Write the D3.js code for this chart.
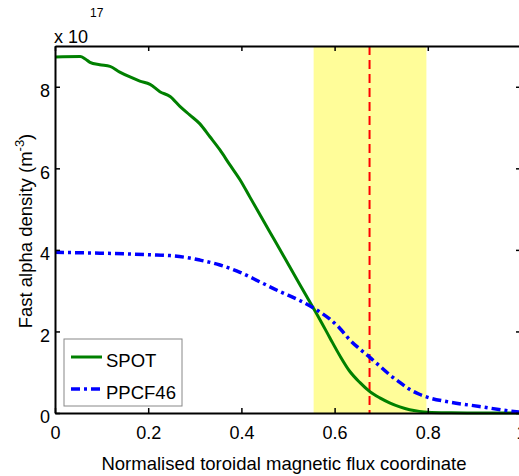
<!DOCTYPE html>
<html lang="en">
<head>
<meta charset="UTF-8" />
<title>Fast alpha density</title>
<style>
  body { margin: 0; background: #fff; }
  svg { display: block; font-family: "Liberation Sans", Arial, sans-serif; }
</style>
</head>
<body>
<div class="chart"></div>
<script src="https://d3js.org/d3.v7.min.js"></script>
<script>
// data (x = normalised toroidal flux, y in 1e17 m^-3)
const spotX = [0, 0.054, 0.065, 0.075, 0.096, 0.118, 0.139, 0.161, 0.182, 0.204, 0.225, 0.247, 0.268, 0.289, 0.311, 0.332, 0.354, 0.375, 0.397, 0.418, 0.439, 0.461, 0.482, 0.504, 0.525, 0.554, 0.568, 0.59, 0.611, 0.632, 0.654, 0.675, 0.697, 0.718, 0.74, 0.761, 0.782, 0.8, 0.85, 0.9, 1.0]
const spotY = [8.73, 8.74, 8.68, 8.6, 8.54, 8.5, 8.36, 8.24, 8.14, 8.06, 7.88, 7.76, 7.52, 7.31, 7.09, 6.78, 6.45, 6.09, 5.72, 5.3, 4.88, 4.44, 4.02, 3.58, 3.16, 2.58, 2.3, 1.84, 1.41, 1.03, 0.75, 0.53, 0.37, 0.25, 0.15, 0.08, 0.04, 0.02, 0.005, 0.0, 0.0]

const ppcfX = [0, 0.096, 0.16, 0.204, 0.247, 0.289, 0.311, 0.354, 0.397, 0.439, 0.482, 0.525, 0.554, 0.59, 0.611, 0.632, 0.654, 0.675, 0.697, 0.718, 0.74, 0.761, 0.782, 0.804, 0.84, 0.911, 0.975, 1.0]
const ppcfY = [3.94, 3.92, 3.9, 3.88, 3.86, 3.8, 3.75, 3.63, 3.45, 3.22, 2.98, 2.76, 2.58, 2.3, 2.08, 1.8, 1.57, 1.37, 1.15, 0.94, 0.75, 0.58, 0.46, 0.37, 0.28, 0.16, 0.05, 0.02]

const seriesNames = ['SPOT', 'PPCF46']
const seriesColors = ['#008000', '#0000ff']

const bandRange = [0.555, 0.797]
const markerX = 0.675

const xTicks = [0, 0.2, 0.4, 0.6, 0.8, 1]
const yTicks = [0, 2, 4, 6, 8]

const width = 519
const height = 476
const plotLeft = 55, plotRight = 521, plotTop = 46, plotBottom = 413

const svg = d3.select('.chart')
  .append('svg')
  .attr('width', width)
  .attr('height', height)

const xScale = d3.scaleLinear().domain([0, 1]).range([plotLeft, plotRight])
const yScale = d3.scaleLinear().domain([0, 9]).range([plotBottom, plotTop])

// shaded region
svg.append('rect')
  .attr('x', xScale(bandRange[0]))
  .attr('y', plotTop)
  .attr('width', xScale(bandRange[1]) - xScale(bandRange[0]))
  .attr('height', plotBottom - plotTop)
  .attr('fill', '#fffd99')

// red dashed marker
svg.append('line')
  .attr('x1', xScale(markerX))
  .attr('x2', xScale(markerX))
  .attr('y1', plotTop)
  .attr('y2', plotBottom)
  .attr('stroke', '#ff0000')
  .attr('stroke-width', 2)
  .attr('stroke-dasharray', '9,5')

const line = d3.line()
  .x(d => xScale(d[0]))
  .y(d => yScale(d[1]))
  .curve(d3.curveMonotoneX)

svg.append('path')
  .datum(spotX.map((x, i) => [x, spotY[i]]))
  .attr('d', line)
  .attr('fill', 'none')
  .attr('stroke', seriesColors[0])
  .attr('stroke-width', 3)

svg.append('path')
  .datum(ppcfX.map((x, i) => [x, ppcfY[i]]))
  .attr('d', line)
  .attr('fill', 'none')
  .attr('stroke', seriesColors[1])
  .attr('stroke-width', 3.5)
  .attr('stroke-dasharray', '9,4,3,4')

// axes (MATLAB style box with inward ticks)
const tickLen = 5
const axisBottom = d3.axisBottom(xScale).tickValues(xTicks).tickSizeInner(-tickLen).tickSizeOuter(0).tickPadding(13)
  .tickFormat(d => d === 0 || d === 1 ? d3.format('d')(d) : d3.format('.1f')(d))
const axisLeft = d3.axisLeft(yScale).tickValues(yTicks).tickSizeInner(-tickLen).tickSizeOuter(0).tickPadding(5)
const axisTop = d3.axisTop(xScale).tickValues(xTicks).tickSizeInner(-tickLen).tickSizeOuter(0).tickFormat('')
const axisRight = d3.axisRight(yScale).tickValues(yTicks).tickSizeInner(-tickLen).tickSizeOuter(0).tickFormat('')

const styleAxis = g => {
  g.select('.domain').attr('stroke', '#000').attr('stroke-width', 2)
  g.selectAll('.tick line').attr('stroke', '#000').attr('stroke-width', 1.5)
  g.selectAll('.tick text').attr('fill', '#000').style('font-size', '18px').attr('font-family', null)
}

svg.append('g').attr('transform', `translate(0, ${plotBottom})`).call(axisBottom).call(styleAxis)
svg.append('g').attr('transform', `translate(${plotLeft}, 0)`).call(axisLeft).call(styleAxis)
  .selectAll('.tick text').attr('dy', '0.55em')
svg.append('g').attr('transform', `translate(0, ${plotTop})`).call(axisTop).call(styleAxis)
svg.append('g').attr('transform', `translate(${plotRight}, 0)`).call(axisRight).call(styleAxis)

// exponent
svg.append('text').attr('x', 54).attr('y', 43).style('font-size', '18px').text('x 10')
svg.append('text').attr('x', 90).attr('y', 17).style('font-size', '12px').text('17')

// axis labels
svg.append('text')
  .attr('x', 284)
  .attr('y', 470)
  .attr('text-anchor', 'middle')
  .style('font-size', '18.5px')
  .text('Normalised toroidal magnetic flux coordinate')

const yLabel = svg.append('text')
  .attr('transform', 'translate(32, 231) rotate(-90)')
  .attr('text-anchor', 'middle')
  .style('font-size', '18.5px')
yLabel.append('tspan').text('Fast alpha density (m')
yLabel.append('tspan').attr('dy', -8).style('font-size', '13px').text('-3')
yLabel.append('tspan').attr('dy', 8).text(')')

// legend
const legend = svg.append('g')
legend.append('rect')
  .attr('x', 64).attr('y', 339)
  .attr('width', 118).attr('height', 67)
  .attr('fill', '#fff')
  .attr('stroke', '#888')
  .attr('stroke-width', 1)

const items = legend.selectAll('g.item')
  .data(seriesNames)
  .join('g')
  .attr('class', 'item')
  .attr('transform', (d, i) => `translate(0, ${357 + i * 32})`)

items.append('line')
  .attr('x1', 71).attr('x2', 102)
  .attr('stroke', (d, i) => seriesColors[i])
  .attr('stroke-width', (d, i) => i === 0 ? 3 : 3.5)
  .attr('stroke-dasharray', (d, i) => i === 0 ? null : '9,4,3,4')

items.append('text')
  .attr('x', 106)
  .attr('y', 10)
  .style('font-size', '18.5px')
  .text(d => d)
</script>
</body>
</html>
